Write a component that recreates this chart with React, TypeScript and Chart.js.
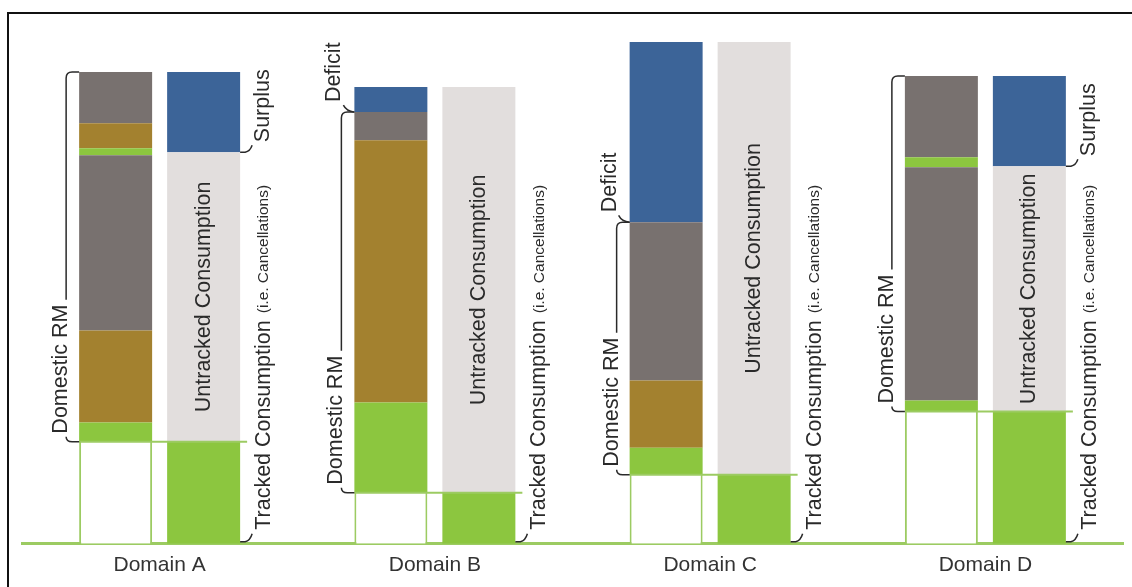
import { useEffect, useRef } from 'react';
import { Chart, registerables } from 'chart.js';

Chart.register(...registerables);

// ---- Data (arbitrary units) ----
const domains = ['Domain A', 'Domain B', 'Domain C', 'Domain D'];

// Left column: tracked placeholder + Domestic RM layers (bottom -> top) + deficit
const trackedConsumption = [20.4, 10.2, 13.8, 26.4];
const rmGreenLower = [3.8, 18, 5.4, 2.2];
const rmBrownLower = [18.4, 52.4, 13.4, 0];
const rmGrayLower = [35, 5.6, 31.6, 46.6];
const rmGreenUpper = [1.4, 0, 0, 2];
const rmBrownUpper = [5, 0, 0, 0];
const rmGrayUpper = [10.2, 0, 0, 16.2];
const deficit = [0, 5, 36, 0];

// Right column: tracked + untracked consumption + surplus
const untrackedConsumption = [57.8, 81, 86.4, 49];
const surplus = [16, 0, 0, 18];

// ---- Styles ----
const GREEN = '#8cc63f';
const BROWN = '#a3812f';
const GRAY = '#78716f';
const BLUE = '#3c6498';
const LIGHT = '#e2dedd';
const LINE_GREEN = '#9ccb62';
const INK = '#2a2a2a';
const FONT_FAMILY = '"Liberation Sans", Arial, sans-serif';
const LABEL_FONT = `21.5px ${FONT_FAMILY}`;
const SMALL_FONT = `15.5px ${FONT_FAMILY}`;

const CAT_PCT = 0.6394;
const BAR_PCT = 0.8295;

function rotatedText(
  ctx: CanvasRenderingContext2D,
  text: string,
  x: number,
  y: number,
  font: string,
  align: CanvasTextAlign,
  baseline: CanvasTextBaseline
) {
  ctx.save();
  ctx.translate(x, y);
  ctx.rotate(-Math.PI / 2);
  ctx.font = font;
  ctx.fillStyle = INK;
  ctx.textAlign = align;
  ctx.textBaseline = baseline;
  ctx.fillText(text, 0, 0);
  ctx.restore();
}

const annotatePlugin = {
  id: 'annotate',
  beforeDraw(chart: any) {
    const ctx = chart.ctx as CanvasRenderingContext2D;
    ctx.save();
    ctx.fillStyle = '#ffffff';
    ctx.fillRect(0, 0, chart.width, chart.height);
    ctx.strokeStyle = '#111';
    ctx.lineWidth = 2;
    ctx.beginPath();
    ctx.moveTo(7, 13);
    ctx.lineTo(chart.width, 13);
    ctx.moveTo(8, 12);
    ctx.lineTo(8, chart.height);
    ctx.stroke();
    ctx.restore();
  },
  afterDatasetsDraw(chart: any) {
    const ctx = chart.ctx as CanvasRenderingContext2D;
    const y = chart.scales.y;
    const leftMeta = chart.getDatasetMeta(0);
    const rightMeta = chart.getDatasetMeta(8);
    const base = y.getPixelForValue(0);

    domains.forEach((_, i) => {
      const lb = leftMeta.data[i];
      const rb = rightMeta.data[i];
      const lLeft = lb.x - lb.width / 2;
      const rRight = rb.x + rb.width / 2;
      const trackedY = y.getPixelForValue(trackedConsumption[i]);
      const rmTop =
        trackedConsumption[i] +
        rmGreenLower[i] +
        rmBrownLower[i] +
        rmGrayLower[i] +
        rmGreenUpper[i] +
        rmBrownUpper[i] +
        rmGrayUpper[i];
      const rmTopY = y.getPixelForValue(rmTop);

      ctx.save();
      // green line across at tracked level
      ctx.strokeStyle = LINE_GREEN;
      ctx.lineWidth = 2;
      ctx.beginPath();
      ctx.moveTo(lLeft, trackedY);
      ctx.lineTo(rRight + 7, trackedY);
      ctx.stroke();

      ctx.strokeStyle = INK;
      ctx.lineWidth = 1.5;

      // Untracked consumption label
      const untrackedTopY = y.getPixelForValue(trackedConsumption[i] + untrackedConsumption[i]);
      rotatedText(ctx, 'Untracked Consumption', rb.x, (trackedY + untrackedTopY) / 2, LABEL_FONT, 'center', 'middle');

      // Tracked consumption label with hook
      ctx.beginPath();
      ctx.moveTo(rRight, base - 2);
      ctx.lineTo(rRight + 5, base - 2);
      ctx.quadraticCurveTo(rRight + 10, base - 3, rRight + 12, base - 10);
      ctx.stroke();
      const tx = rRight + 24;
      const ty = base - 14;
      rotatedText(ctx, 'Tracked Consumption', tx, ty, LABEL_FONT, 'left', 'middle');
      ctx.font = LABEL_FONT;
      const w1 = ctx.measureText('Tracked Consumption').width;
      rotatedText(ctx, '(i.e. Cancellations)', tx, ty - w1 - 7, SMALL_FONT, 'left', 'middle');

      // Surplus
      if (surplus[i] > 0) {
        const sy = untrackedTopY;
        ctx.beginPath();
        ctx.moveTo(rRight, sy);
        ctx.lineTo(rRight + 5, sy);
        ctx.quadraticCurveTo(rRight + 10, sy - 1, rRight + 12, sy - 7);
        ctx.stroke();
        rotatedText(ctx, 'Surplus', rRight + 23, sy - 10, LABEL_FONT, 'left', 'middle');
      }

      // Deficit
      if (deficit[i] > 0) {
        const dy = rmTopY;
        ctx.beginPath();
        ctx.moveTo(lLeft, dy);
        ctx.quadraticCurveTo(lLeft - 8, dy - 1, lLeft - 11, dy - 7);
        ctx.stroke();
        rotatedText(ctx, 'Deficit', lLeft - 20, dy - 10, LABEL_FONT, 'left', 'middle');
      }

      // Domestic RM bracket
      const lineX = lLeft - 13;
      const textStart = trackedY - 8;
      ctx.font = LABEL_FONT;
      const wRM = ctx.measureText('Domestic RM').width;
      rotatedText(ctx, 'Domestic RM', lineX + 1, textStart, LABEL_FONT, 'left', 'alphabetic');
      ctx.beginPath();
      ctx.moveTo(lineX, trackedY - 5);
      ctx.quadraticCurveTo(lineX, trackedY, lineX + 6, trackedY);
      ctx.lineTo(lLeft, trackedY);
      ctx.moveTo(lineX, textStart - wRM - 5);
      ctx.lineTo(lineX, rmTopY + 6);
      ctx.quadraticCurveTo(lineX, rmTopY, lineX + 6, rmTopY);
      ctx.lineTo(lLeft, rmTopY);
      ctx.stroke();
      ctx.restore();
    });
  },
};

function leftDataset(label: string, data: number[], color: string, outline = false) {
  return {
    type: 'bar' as const,
    label,
    data,
    stack: 'rm',
    backgroundColor: color,
    borderColor: LINE_GREEN,
    borderWidth: outline ? { left: 2, right: 2, top: 0, bottom: 0 } : 0,
    borderSkipped: false as const,
    categoryPercentage: CAT_PCT,
    barPercentage: BAR_PCT,
  };
}

function rightDataset(label: string, data: number[], color: string) {
  return {
    type: 'bar' as const,
    label,
    data,
    stack: 'consumption',
    backgroundColor: color,
    borderWidth: 0,
    categoryPercentage: CAT_PCT,
    barPercentage: BAR_PCT,
  };
}

export default function App() {
  const ref = useRef<HTMLCanvasElement>(null);
  useEffect(() => {
    const chart = new Chart(ref.current!, {
      type: 'bar',
      data: {
        labels: domains,
        datasets: [
          leftDataset('Tracked Consumption (placeholder)', trackedConsumption, '#ffffff', true),
          leftDataset('Domestic RM – green', rmGreenLower, GREEN),
          leftDataset('Domestic RM – brown', rmBrownLower, BROWN),
          leftDataset('Domestic RM – gray', rmGrayLower, GRAY),
          leftDataset('Domestic RM – green (upper)', rmGreenUpper, GREEN),
          leftDataset('Domestic RM – brown (upper)', rmBrownUpper, BROWN),
          leftDataset('Domestic RM – gray (upper)', rmGrayUpper, GRAY),
          leftDataset('Deficit', deficit, BLUE),
          rightDataset('Tracked Consumption', trackedConsumption, GREEN),
          rightDataset('Untracked Consumption', untrackedConsumption, LIGHT),
          rightDataset('Surplus', surplus, BLUE),
        ] as any,
      },
      options: {
        animation: false,
        responsive: true,
        maintainAspectRatio: false,
        layout: { padding: { left: 22, right: 9, top: 33, bottom: 0 } },
        plugins: { legend: { display: false }, tooltip: { enabled: false } },
        scales: {
          x: {
            grid: { display: false, drawTicks: false },
            border: { display: true, color: LINE_GREEN, width: 3 },
            ticks: { color: '#333', padding: 9, font: { size: 21, family: FONT_FAMILY } },
          },
          y: { display: false, min: 0, max: 102 },
        },
      },
      plugins: [annotatePlugin],
    });
    return () => chart.destroy();
  }, []);
  return (
    <div style={{ position: 'fixed', left: 0, top: 0, width: 1132, height: 587, background: '#fff' }}>
      <canvas ref={ref} />
    </div>
  );
}
